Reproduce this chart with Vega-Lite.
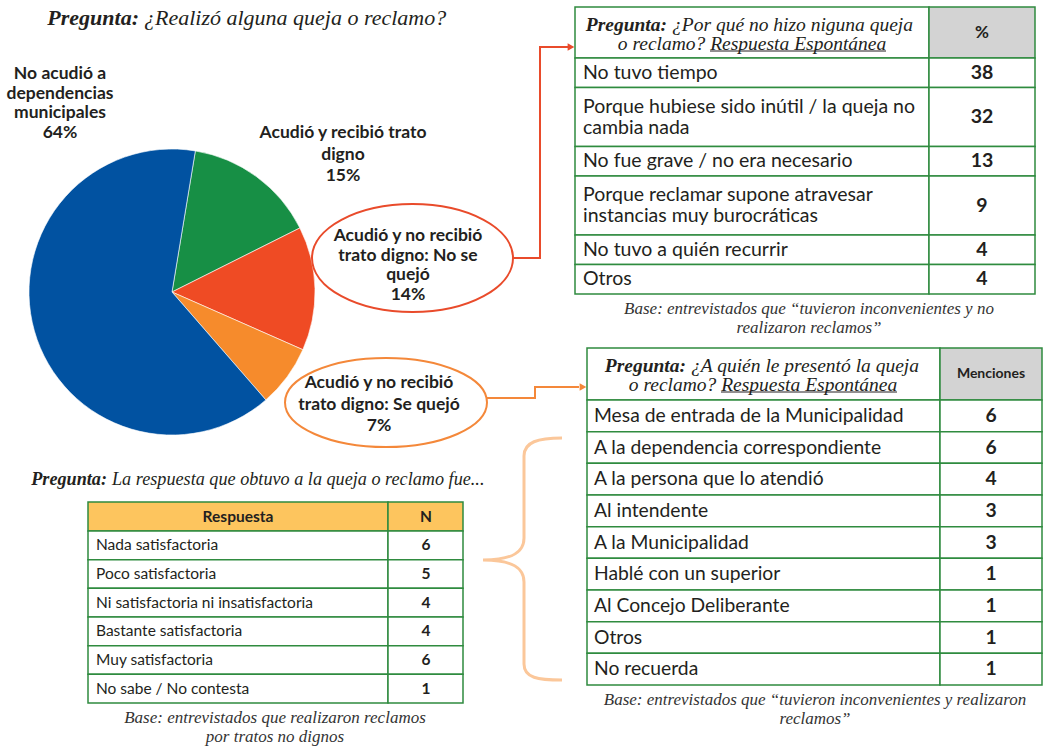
{
"$schema": "https://vega.github.io/schema/vega-lite/v6.json",
"width": 1043, "height": 746, "autosize": "none", "padding": 0, "background": "white",
"config": {"view": {"stroke": null}},
"datasets": {
 "pie": [
  {"orden": 1, "categoria": "Acudió y recibió trato digno", "pct": 15, "etiqueta": "Acudió y recibió trato\ndigno\n15%"},
  {"orden": 2, "categoria": "Acudió y no recibió trato digno: No se quejó", "pct": 14, "etiqueta": "Acudió y no recibió\ntrato digno: No se\nquejó\n14%"},
  {"orden": 3, "categoria": "Acudió y no recibió trato digno: Se quejó", "pct": 7, "etiqueta": "Acudió y no recibió\ntrato digno: Se quejó\n7%"},
  {"orden": 4, "categoria": "No acudió a dependencias municipales", "pct": 64, "etiqueta": "No acudió a\ndependencias\nmunicipales\n64%"}
 ],
 "t1": [
  {"fila": 1, "respuesta": "No tuvo tiempo", "lineas": 1, "pct": 38},
  {"fila": 2, "respuesta": "Porque hubiese sido inútil / la queja no\ncambia nada", "lineas": 2, "pct": 32},
  {"fila": 3, "respuesta": "No fue grave / no era necesario", "lineas": 1, "pct": 13},
  {"fila": 4, "respuesta": "Porque reclamar supone atravesar\ninstancias muy burocráticas", "lineas": 2, "pct": 9},
  {"fila": 5, "respuesta": "No tuvo a quién recurrir", "lineas": 1, "pct": 4},
  {"fila": 6, "respuesta": "Otros", "lineas": 1, "pct": 4}
 ],
 "t2": [
  {"fila": 1, "destino": "Mesa de entrada de la Municipalidad", "menciones": 6},
  {"fila": 2, "destino": "A la dependencia correspondiente", "menciones": 6},
  {"fila": 3, "destino": "A la persona que lo atendió", "menciones": 4},
  {"fila": 4, "destino": "Al intendente", "menciones": 3},
  {"fila": 5, "destino": "A la Municipalidad", "menciones": 3},
  {"fila": 6, "destino": "Hablé con un superior", "menciones": 1},
  {"fila": 7, "destino": "Al Concejo Deliberante", "menciones": 1},
  {"fila": 8, "destino": "Otros", "menciones": 1},
  {"fila": 9, "destino": "No recuerda", "menciones": 1}
 ],
 "t3": [
  {"fila": 1, "respuesta": "Nada satisfactoria", "n": 6},
  {"fila": 2, "respuesta": "Poco satisfactoria", "n": 5},
  {"fila": 3, "respuesta": "Ni satisfactoria ni insatisfactoria", "n": 4},
  {"fila": 4, "respuesta": "Bastante satisfactoria", "n": 4},
  {"fila": 5, "respuesta": "Muy satisfactoria", "n": 6},
  {"fila": 6, "respuesta": "No sabe / No contesta", "n": 1}
 ]
},
"resolve": {"scale": {"x": "independent", "y": "independent", "color": "independent", "theta": "independent"}},
"layer": [
 {"data": {"name": "pie"},
  "mark": {"type": "arc", "outerRadius": 143, "stroke": "white", "strokeWidth": 0.6},
  "encoding": {
   "theta": {"field": "pct", "type": "quantitative", "stack": true, "scale": {"range": [0.164, 6.4472]}},
   "order": {"field": "orden", "type": "quantitative"},
   "color": {"field": "categoria", "type": "nominal", "legend": null,
     "scale": {"domain": ["Acudió y recibió trato digno", "Acudió y no recibió trato digno: No se quejó", "Acudió y no recibió trato digno: Se quejó", "No acudió a dependencias municipales"],
               "range": ["#178F45", "#EF4B24", "#F68B2C", "#0152A1"]}},
   "x": {"datum": 172, "type": "quantitative", "scale": {"domain": [0, 1043], "range": [0, 1043], "nice": false, "zero": false}, "axis": null},
   "y": {"datum": 292, "type": "quantitative", "scale": {"domain": [0, 746], "range": [0, 746], "nice": false, "zero": false}, "axis": null}}},

 {"data": {"name": "pie"}, "transform": [{"filter": "datum.orden == 4"}],
  "mark": {"type": "text", "font": "Lato", "fontWeight": "bold", "fontSize": 17.5, "lineHeight": 19.7, "lineBreak": "\n", "align": "center", "baseline": "middle", "color": "#231F20"},
  "encoding": {"text": {"field": "etiqueta", "type": "nominal"},
   "x": {"datum": 60, "type": "quantitative", "scale": {"domain": [0, 1043], "range": [0, 1043], "nice": false, "zero": false}, "axis": null},
   "y": {"datum": 74, "type": "quantitative", "scale": {"domain": [0, 746], "range": [0, 746], "nice": false, "zero": false}, "axis": null}}},
 {"data": {"name": "pie"}, "transform": [{"filter": "datum.orden == 1"}],
  "mark": {"type": "text", "font": "Lato", "fontWeight": "bold", "fontSize": 17.5, "lineHeight": 21.5, "lineBreak": "\n", "align": "center", "baseline": "middle", "color": "#231F20"},
  "encoding": {"text": {"field": "etiqueta", "type": "nominal"},
   "x": {"datum": 343, "type": "quantitative", "scale": {"domain": [0, 1043], "range": [0, 1043], "nice": false, "zero": false}, "axis": null},
   "y": {"datum": 133, "type": "quantitative", "scale": {"domain": [0, 746], "range": [0, 746], "nice": false, "zero": false}, "axis": null}}},
 {"data": {"name": "pie"}, "transform": [{"filter": "datum.orden == 2"}],
  "mark": {"type": "text", "font": "Lato", "fontWeight": "bold", "fontSize": 17.5, "lineHeight": 19.5, "lineBreak": "\n", "align": "center", "baseline": "middle", "color": "#231F20"},
  "encoding": {"text": {"field": "etiqueta", "type": "nominal"},
   "x": {"datum": 408, "type": "quantitative", "scale": {"domain": [0, 1043], "range": [0, 1043], "nice": false, "zero": false}, "axis": null},
   "y": {"datum": 236, "type": "quantitative", "scale": {"domain": [0, 746], "range": [0, 746], "nice": false, "zero": false}, "axis": null}}},
 {"data": {"name": "pie"}, "transform": [{"filter": "datum.orden == 3"}],
  "mark": {"type": "text", "font": "Lato", "fontWeight": "bold", "fontSize": 17.5, "lineHeight": 21.5, "lineBreak": "\n", "align": "center", "baseline": "middle", "color": "#231F20"},
  "encoding": {"text": {"field": "etiqueta", "type": "nominal"},
   "x": {"datum": 379, "type": "quantitative", "scale": {"domain": [0, 1043], "range": [0, 1043], "nice": false, "zero": false}, "axis": null},
   "y": {"datum": 383, "type": "quantitative", "scale": {"domain": [0, 746], "range": [0, 746], "nice": false, "zero": false}, "axis": null}}},

 {"data": {"name": "pie"}, "transform": [{"filter": "datum.orden == 2"}],
  "mark": {"type": "point", "shape": "M -100.5 0 A 100.5 54 0 1 1 100.5 0 A 100.5 54 0 1 1 -100.5 0 Z", "size": 4, "filled": false, "opacity": 1, "color": "#E94B2B", "strokeWidth": 2},
  "encoding": {
   "x": {"datum": 412.5, "type": "quantitative", "scale": {"domain": [0, 1043], "range": [0, 1043], "nice": false, "zero": false}, "axis": null},
   "y": {"datum": 258, "type": "quantitative", "scale": {"domain": [0, 746], "range": [0, 746], "nice": false, "zero": false}, "axis": null}}},
 {"data": {"name": "pie"}, "transform": [{"filter": "datum.orden == 3"}],
  "mark": {"type": "point", "shape": "M -101 0 A 101 44.5 0 1 1 101 0 A 101 44.5 0 1 1 -101 0 Z", "size": 4, "filled": false, "opacity": 1, "color": "#F4883A", "strokeWidth": 2},
  "encoding": {
   "x": {"datum": 386, "type": "quantitative", "scale": {"domain": [0, 1043], "range": [0, 1043], "nice": false, "zero": false}, "axis": null},
   "y": {"datum": 402.5, "type": "quantitative", "scale": {"domain": [0, 746], "range": [0, 746], "nice": false, "zero": false}, "axis": null}}},

 {"data": {"name": "pie"}, "transform": [{"filter": "datum.orden == 2"}],
  "mark": {"type": "point", "shape": "M 0 0 L 27 0 L 27 -211 L 55 -211", "size": 4, "filled": false, "opacity": 1, "color": "#E94B2B", "strokeWidth": 2},
  "encoding": {
   "x": {"datum": 513, "type": "quantitative", "scale": {"domain": [0, 1043], "range": [0, 1043], "nice": false, "zero": false}, "axis": null},
   "y": {"datum": 258, "type": "quantitative", "scale": {"domain": [0, 746], "range": [0, 746], "nice": false, "zero": false}, "axis": null}}},
 {"data": {"name": "pie"}, "transform": [{"filter": "datum.orden == 2"}],
  "mark": {"type": "point", "shape": "triangle-right", "size": 60, "filled": true, "opacity": 1, "color": "#E94B2B"},
  "encoding": {
   "x": {"datum": 571, "type": "quantitative", "scale": {"domain": [0, 1043], "range": [0, 1043], "nice": false, "zero": false}, "axis": null},
   "y": {"datum": 47, "type": "quantitative", "scale": {"domain": [0, 746], "range": [0, 746], "nice": false, "zero": false}, "axis": null}}},
 {"data": {"name": "pie"}, "transform": [{"filter": "datum.orden == 3"}],
  "mark": {"type": "point", "shape": "M 0 0 L 48 0 L 48 -11 L 92 -11", "size": 4, "filled": false, "opacity": 1, "color": "#F4883A", "strokeWidth": 2},
  "encoding": {
   "x": {"datum": 487, "type": "quantitative", "scale": {"domain": [0, 1043], "range": [0, 1043], "nice": false, "zero": false}, "axis": null},
   "y": {"datum": 398, "type": "quantitative", "scale": {"domain": [0, 746], "range": [0, 746], "nice": false, "zero": false}, "axis": null}}},
 {"data": {"name": "pie"}, "transform": [{"filter": "datum.orden == 3"}],
  "mark": {"type": "point", "shape": "triangle-right", "size": 60, "filled": true, "opacity": 1, "color": "#F4883A"},
  "encoding": {
   "x": {"datum": 583, "type": "quantitative", "scale": {"domain": [0, 1043], "range": [0, 1043], "nice": false, "zero": false}, "axis": null},
   "y": {"datum": 387, "type": "quantitative", "scale": {"domain": [0, 746], "range": [0, 746], "nice": false, "zero": false}, "axis": null}}},

 {"data": {"values": [{"elemento": "llave"}]},
  "mark": {"type": "point", "shape": "M 79 -122 C 55 -122 41 -118 41 -104 L 41 -22 C 41 -8 30 0 0 0 C 30 0 41 8 41 22 L 41 104 C 41 118 55 120 79 120", "size": 4, "filled": false, "opacity": 1, "color": "#FBC79A", "strokeWidth": 3},
  "encoding": {
   "x": {"datum": 483, "type": "quantitative", "scale": {"domain": [0, 1043], "range": [0, 1043], "nice": false, "zero": false}, "axis": null},
   "y": {"datum": 560, "type": "quantitative", "scale": {"domain": [0, 746], "range": [0, 746], "nice": false, "zero": false}, "axis": null}}},

 {"data": {"values": [{"texto": "Pregunta:"}]},
  "mark": {"type": "text", "font": "Liberation Serif", "fontStyle": "italic", "fontWeight": "bold", "fontSize": 22, "align": "right", "baseline": "middle", "color": "#231F20"},
  "encoding": {"text": {"field": "texto", "type": "nominal"},
   "x": {"datum": 139, "type": "quantitative", "scale": {"domain": [0, 1043], "range": [0, 1043], "nice": false, "zero": false}, "axis": null},
   "y": {"datum": 18, "type": "quantitative", "scale": {"domain": [0, 746], "range": [0, 746], "nice": false, "zero": false}, "axis": null}}},
 {"data": {"values": [{"texto": "¿Realizó alguna queja o reclamo?"}]},
  "mark": {"type": "text", "font": "Liberation Serif", "fontStyle": "italic", "fontSize": 22, "align": "left", "baseline": "middle", "color": "#231F20"},
  "encoding": {"text": {"field": "texto", "type": "nominal"},
   "x": {"datum": 144, "type": "quantitative", "scale": {"domain": [0, 1043], "range": [0, 1043], "nice": false, "zero": false}, "axis": null},
   "y": {"datum": 18, "type": "quantitative", "scale": {"domain": [0, 746], "range": [0, 746], "nice": false, "zero": false}, "axis": null}}},

 {"data": {"values": [{"celda": "pregunta"}]},
  "mark": {"type": "rect", "fill": "white", "stroke": "#2F8B3F", "strokeWidth": 1.5},
  "encoding": {
   "x": {"datum": 575, "type": "quantitative", "scale": {"domain": [0, 1043], "range": [0, 1043], "nice": false, "zero": false}, "axis": null}, "x2": {"datum": 929},
   "y": {"datum": 7, "type": "quantitative", "scale": {"domain": [0, 746], "range": [0, 746], "nice": false, "zero": false}, "axis": null}, "y2": {"datum": 58}}},
 {"data": {"values": [{"celda": "%"}]},
  "mark": {"type": "rect", "fill": "#D3D3D3", "stroke": "#2F8B3F", "strokeWidth": 1.5},
  "encoding": {
   "x": {"datum": 929, "type": "quantitative", "scale": {"domain": [0, 1043], "range": [0, 1043], "nice": false, "zero": false}, "axis": null}, "x2": {"datum": 1035},
   "y": {"datum": 7, "type": "quantitative", "scale": {"domain": [0, 746], "range": [0, 746], "nice": false, "zero": false}, "axis": null}, "y2": {"datum": 58}}},
 {"data": {"values": [{"texto": "Pregunta:"}]},
  "mark": {"type": "text", "font": "Liberation Serif", "fontStyle": "italic", "fontWeight": "bold", "fontSize": 19.5, "align": "right", "baseline": "middle", "color": "#231F20"},
  "encoding": {"text": {"field": "texto", "type": "nominal"},
   "x": {"datum": 667, "type": "quantitative", "scale": {"domain": [0, 1043], "range": [0, 1043], "nice": false, "zero": false}, "axis": null},
   "y": {"datum": 25, "type": "quantitative", "scale": {"domain": [0, 746], "range": [0, 746], "nice": false, "zero": false}, "axis": null}}},
 {"data": {"values": [{"texto": "¿Por qué no hizo niguna queja"}]},
  "mark": {"type": "text", "font": "Liberation Serif", "fontStyle": "italic", "fontSize": 19.5, "align": "left", "baseline": "middle", "color": "#231F20"},
  "encoding": {"text": {"field": "texto", "type": "nominal"},
   "x": {"datum": 672, "type": "quantitative", "scale": {"domain": [0, 1043], "range": [0, 1043], "nice": false, "zero": false}, "axis": null},
   "y": {"datum": 25, "type": "quantitative", "scale": {"domain": [0, 746], "range": [0, 746], "nice": false, "zero": false}, "axis": null}}},
 {"data": {"values": [{"texto": "o reclamo? Respuesta Espontánea"}]},
  "mark": {"type": "text", "font": "Liberation Serif", "fontStyle": "italic", "fontSize": 19.5, "align": "center", "baseline": "middle", "color": "#231F20"},
  "encoding": {"text": {"field": "texto", "type": "nominal"},
   "x": {"datum": 752, "type": "quantitative", "scale": {"domain": [0, 1043], "range": [0, 1043], "nice": false, "zero": false}, "axis": null},
   "y": {"datum": 44, "type": "quantitative", "scale": {"domain": [0, 746], "range": [0, 746], "nice": false, "zero": false}, "axis": null}}},
 {"data": {"values": [{"subrayado": "Respuesta Espontánea"}]},
  "mark": {"type": "rule", "color": "#231F20", "strokeWidth": 1},
  "encoding": {
   "x": {"datum": 710, "type": "quantitative", "scale": {"domain": [0, 1043], "range": [0, 1043], "nice": false, "zero": false}, "axis": null}, "x2": {"datum": 886},
   "y": {"datum": 51, "type": "quantitative", "scale": {"domain": [0, 746], "range": [0, 746], "nice": false, "zero": false}, "axis": null}}},
 {"data": {"values": [{"texto": "%"}]},
  "mark": {"type": "text", "font": "Lato", "fontWeight": "bold", "fontSize": 17, "align": "center", "baseline": "middle", "color": "#231F20"},
  "encoding": {"text": {"field": "texto", "type": "nominal"},
   "x": {"datum": 982, "type": "quantitative", "scale": {"domain": [0, 1043], "range": [0, 1043], "nice": false, "zero": false}, "axis": null},
   "y": {"datum": 33, "type": "quantitative", "scale": {"domain": [0, 746], "range": [0, 746], "nice": false, "zero": false}, "axis": null}}},

 {"data": {"name": "t1"},
  "transform": [{"stack": "lineas", "groupby": [], "sort": [{"field": "fila", "order": "ascending"}], "as": ["s0", "s1"]}],
  "mark": {"type": "rect", "fill": "white", "stroke": "#2F8B3F", "strokeWidth": 1.5},
  "encoding": {
   "x": {"datum": 575, "type": "quantitative", "scale": {"domain": [0, 1043], "range": [0, 1043], "nice": false, "zero": false}, "axis": null}, "x2": {"datum": 929},
   "y": {"field": "s0", "type": "quantitative", "scale": {"domain": [0, 8], "range": [58, 294], "nice": false, "zero": false}, "axis": null}, "y2": {"field": "s1"}}},
 {"data": {"name": "t1"},
  "transform": [{"stack": "lineas", "groupby": [], "sort": [{"field": "fila", "order": "ascending"}], "as": ["s0", "s1"]}],
  "mark": {"type": "rect", "fill": "white", "stroke": "#2F8B3F", "strokeWidth": 1.5},
  "encoding": {
   "x": {"datum": 929, "type": "quantitative", "scale": {"domain": [0, 1043], "range": [0, 1043], "nice": false, "zero": false}, "axis": null}, "x2": {"datum": 1035},
   "y": {"field": "s0", "type": "quantitative", "scale": {"domain": [0, 8], "range": [58, 294], "nice": false, "zero": false}, "axis": null}, "y2": {"field": "s1"}}},
 {"data": {"name": "t1"},
  "transform": [{"stack": "lineas", "groupby": [], "sort": [{"field": "fila", "order": "ascending"}], "as": ["s0", "s1"]},
                {"fold": ["s0", "s1"], "as": ["borde", "pos"]},
                {"aggregate": [{"op": "mean", "field": "pos", "as": "medio"}], "groupby": ["fila", "respuesta", "lineas", "pct"]},
                {"filter": "datum.lineas == 1"}],
  "mark": {"type": "text", "font": "Lato", "fontSize": 19.5, "align": "left", "baseline": "middle", "color": "#231F20"},
  "encoding": {"text": {"field": "respuesta", "type": "nominal"},
   "x": {"datum": 583, "type": "quantitative", "scale": {"domain": [0, 1043], "range": [0, 1043], "nice": false, "zero": false}, "axis": null},
   "y": {"field": "medio", "type": "quantitative", "scale": {"domain": [0, 8], "range": [58, 294], "nice": false, "zero": false}, "axis": null}}},
 {"data": {"name": "t1"},
  "transform": [{"stack": "lineas", "groupby": [], "sort": [{"field": "fila", "order": "ascending"}], "as": ["s0", "s1"]},
                {"fold": ["s0", "s1"], "as": ["borde", "pos"]},
                {"aggregate": [{"op": "mean", "field": "pos", "as": "medio"}], "groupby": ["fila", "respuesta", "lineas", "pct"]},
                {"filter": "datum.lineas == 2"}],
  "mark": {"type": "text", "font": "Lato", "fontSize": 19.5, "lineHeight": 21, "lineBreak": "\n", "dy": -10.5, "align": "left", "baseline": "middle", "color": "#231F20"},
  "encoding": {"text": {"field": "respuesta", "type": "nominal"},
   "x": {"datum": 583, "type": "quantitative", "scale": {"domain": [0, 1043], "range": [0, 1043], "nice": false, "zero": false}, "axis": null},
   "y": {"field": "medio", "type": "quantitative", "scale": {"domain": [0, 8], "range": [58, 294], "nice": false, "zero": false}, "axis": null}}},
 {"data": {"name": "t1"},
  "transform": [{"stack": "lineas", "groupby": [], "sort": [{"field": "fila", "order": "ascending"}], "as": ["s0", "s1"]},
                {"fold": ["s0", "s1"], "as": ["borde", "pos"]},
                {"aggregate": [{"op": "mean", "field": "pos", "as": "medio"}], "groupby": ["fila", "respuesta", "pct"]}],
  "mark": {"type": "text", "font": "Lato", "fontWeight": "bold", "fontSize": 19.5, "align": "center", "baseline": "middle", "color": "#231F20"},
  "encoding": {"text": {"field": "pct", "type": "nominal"},
   "x": {"datum": 982, "type": "quantitative", "scale": {"domain": [0, 1043], "range": [0, 1043], "nice": false, "zero": false}, "axis": null},
   "y": {"field": "medio", "type": "quantitative", "scale": {"domain": [0, 8], "range": [58, 294], "nice": false, "zero": false}, "axis": null}}},
 {"data": {"values": [{"texto": "Base: entrevistados que “tuvieron inconvenientes y no\nrealizaron reclamos”"}]},
  "mark": {"type": "text", "font": "Liberation Serif", "fontStyle": "italic", "fontSize": 17, "lineHeight": 18.5, "lineBreak": "\n", "align": "center", "baseline": "middle", "color": "#333333"},
  "encoding": {"text": {"field": "texto", "type": "nominal"},
   "x": {"datum": 809, "type": "quantitative", "scale": {"domain": [0, 1043], "range": [0, 1043], "nice": false, "zero": false}, "axis": null},
   "y": {"datum": 309, "type": "quantitative", "scale": {"domain": [0, 746], "range": [0, 746], "nice": false, "zero": false}, "axis": null}}},

 {"data": {"values": [{"celda": "pregunta"}]},
  "mark": {"type": "rect", "fill": "white", "stroke": "#2F8B3F", "strokeWidth": 1.5},
  "encoding": {
   "x": {"datum": 587, "type": "quantitative", "scale": {"domain": [0, 1043], "range": [0, 1043], "nice": false, "zero": false}, "axis": null}, "x2": {"datum": 940},
   "y": {"datum": 348, "type": "quantitative", "scale": {"domain": [0, 746], "range": [0, 746], "nice": false, "zero": false}, "axis": null}, "y2": {"datum": 400}}},
 {"data": {"values": [{"celda": "Menciones"}]},
  "mark": {"type": "rect", "fill": "#D3D3D3", "stroke": "#2F8B3F", "strokeWidth": 1.5},
  "encoding": {
   "x": {"datum": 940, "type": "quantitative", "scale": {"domain": [0, 1043], "range": [0, 1043], "nice": false, "zero": false}, "axis": null}, "x2": {"datum": 1042},
   "y": {"datum": 348, "type": "quantitative", "scale": {"domain": [0, 746], "range": [0, 746], "nice": false, "zero": false}, "axis": null}, "y2": {"datum": 400}}},
 {"data": {"values": [{"texto": "Pregunta:"}]},
  "mark": {"type": "text", "font": "Liberation Serif", "fontStyle": "italic", "fontWeight": "bold", "fontSize": 19.5, "align": "right", "baseline": "middle", "color": "#231F20"},
  "encoding": {"text": {"field": "texto", "type": "nominal"},
   "x": {"datum": 686, "type": "quantitative", "scale": {"domain": [0, 1043], "range": [0, 1043], "nice": false, "zero": false}, "axis": null},
   "y": {"datum": 366, "type": "quantitative", "scale": {"domain": [0, 746], "range": [0, 746], "nice": false, "zero": false}, "axis": null}}},
 {"data": {"values": [{"texto": "¿A quién le presentó la queja"}]},
  "mark": {"type": "text", "font": "Liberation Serif", "fontStyle": "italic", "fontSize": 19.5, "align": "left", "baseline": "middle", "color": "#231F20"},
  "encoding": {"text": {"field": "texto", "type": "nominal"},
   "x": {"datum": 691, "type": "quantitative", "scale": {"domain": [0, 1043], "range": [0, 1043], "nice": false, "zero": false}, "axis": null},
   "y": {"datum": 366, "type": "quantitative", "scale": {"domain": [0, 746], "range": [0, 746], "nice": false, "zero": false}, "axis": null}}},
 {"data": {"values": [{"texto": "o reclamo? Respuesta Espontánea"}]},
  "mark": {"type": "text", "font": "Liberation Serif", "fontStyle": "italic", "fontSize": 19.5, "align": "center", "baseline": "middle", "color": "#231F20"},
  "encoding": {"text": {"field": "texto", "type": "nominal"},
   "x": {"datum": 763, "type": "quantitative", "scale": {"domain": [0, 1043], "range": [0, 1043], "nice": false, "zero": false}, "axis": null},
   "y": {"datum": 385, "type": "quantitative", "scale": {"domain": [0, 746], "range": [0, 746], "nice": false, "zero": false}, "axis": null}}},
 {"data": {"values": [{"subrayado": "Respuesta Espontánea"}]},
  "mark": {"type": "rule", "color": "#231F20", "strokeWidth": 1},
  "encoding": {
   "x": {"datum": 721, "type": "quantitative", "scale": {"domain": [0, 1043], "range": [0, 1043], "nice": false, "zero": false}, "axis": null}, "x2": {"datum": 897},
   "y": {"datum": 392, "type": "quantitative", "scale": {"domain": [0, 746], "range": [0, 746], "nice": false, "zero": false}, "axis": null}}},
 {"data": {"values": [{"texto": "Menciones"}]},
  "mark": {"type": "text", "font": "Lato", "fontWeight": "bold", "fontSize": 14, "align": "center", "baseline": "middle", "color": "#231F20"},
  "encoding": {"text": {"field": "texto", "type": "nominal"},
   "x": {"datum": 991, "type": "quantitative", "scale": {"domain": [0, 1043], "range": [0, 1043], "nice": false, "zero": false}, "axis": null},
   "y": {"datum": 374, "type": "quantitative", "scale": {"domain": [0, 746], "range": [0, 746], "nice": false, "zero": false}, "axis": null}}},

 {"data": {"name": "t2"},
  "mark": {"type": "rect", "fill": "white", "stroke": "#2F8B3F", "strokeWidth": 1.5},
  "encoding": {
   "x": {"datum": 587, "type": "quantitative", "scale": {"domain": [0, 1043], "range": [0, 1043], "nice": false, "zero": false}, "axis": null}, "x2": {"datum": 940},
   "y": {"field": "fila", "type": "ordinal", "scale": {"type": "band", "domain": [1, 2, 3, 4, 5, 6, 7, 8, 9], "range": [400, 685], "paddingInner": 0, "paddingOuter": 0}, "axis": null}}},
 {"data": {"name": "t2"},
  "mark": {"type": "rect", "fill": "white", "stroke": "#2F8B3F", "strokeWidth": 1.5},
  "encoding": {
   "x": {"datum": 940, "type": "quantitative", "scale": {"domain": [0, 1043], "range": [0, 1043], "nice": false, "zero": false}, "axis": null}, "x2": {"datum": 1042},
   "y": {"field": "fila", "type": "ordinal", "scale": {"type": "band", "domain": [1, 2, 3, 4, 5, 6, 7, 8, 9], "range": [400, 685], "paddingInner": 0, "paddingOuter": 0}, "axis": null}}},
 {"data": {"name": "t2"},
  "mark": {"type": "text", "font": "Lato", "fontSize": 19.3, "align": "left", "baseline": "middle", "color": "#231F20"},
  "encoding": {"text": {"field": "destino", "type": "nominal"},
   "x": {"datum": 594, "type": "quantitative", "scale": {"domain": [0, 1043], "range": [0, 1043], "nice": false, "zero": false}, "axis": null},
   "y": {"field": "fila", "type": "ordinal", "scale": {"type": "band", "domain": [1, 2, 3, 4, 5, 6, 7, 8, 9], "range": [400, 685], "paddingInner": 0, "paddingOuter": 0}, "axis": null}}},
 {"data": {"name": "t2"},
  "mark": {"type": "text", "font": "Lato", "fontWeight": "bold", "fontSize": 19.3, "align": "center", "baseline": "middle", "color": "#231F20"},
  "encoding": {"text": {"field": "menciones", "type": "nominal"},
   "x": {"datum": 991, "type": "quantitative", "scale": {"domain": [0, 1043], "range": [0, 1043], "nice": false, "zero": false}, "axis": null},
   "y": {"field": "fila", "type": "ordinal", "scale": {"type": "band", "domain": [1, 2, 3, 4, 5, 6, 7, 8, 9], "range": [400, 685], "paddingInner": 0, "paddingOuter": 0}, "axis": null}}},
 {"data": {"values": [{"texto": "Base: entrevistados que “tuvieron inconvenientes y realizaron\nreclamos”"}]},
  "mark": {"type": "text", "font": "Liberation Serif", "fontStyle": "italic", "fontSize": 17, "lineHeight": 18.5, "lineBreak": "\n", "align": "center", "baseline": "middle", "color": "#333333"},
  "encoding": {"text": {"field": "texto", "type": "nominal"},
   "x": {"datum": 815, "type": "quantitative", "scale": {"domain": [0, 1043], "range": [0, 1043], "nice": false, "zero": false}, "axis": null},
   "y": {"datum": 700, "type": "quantitative", "scale": {"domain": [0, 746], "range": [0, 746], "nice": false, "zero": false}, "axis": null}}},

 {"data": {"values": [{"texto": "Pregunta:"}]},
  "mark": {"type": "text", "font": "Liberation Serif", "fontStyle": "italic", "fontWeight": "bold", "fontSize": 18.2, "align": "right", "baseline": "middle", "color": "#231F20"},
  "encoding": {"text": {"field": "texto", "type": "nominal"},
   "x": {"datum": 107, "type": "quantitative", "scale": {"domain": [0, 1043], "range": [0, 1043], "nice": false, "zero": false}, "axis": null},
   "y": {"datum": 480, "type": "quantitative", "scale": {"domain": [0, 746], "range": [0, 746], "nice": false, "zero": false}, "axis": null}}},
 {"data": {"values": [{"texto": "La respuesta que obtuvo a la queja o reclamo fue..."}]},
  "mark": {"type": "text", "font": "Liberation Serif", "fontStyle": "italic", "fontSize": 18.2, "align": "left", "baseline": "middle", "color": "#231F20"},
  "encoding": {"text": {"field": "texto", "type": "nominal"},
   "x": {"datum": 112, "type": "quantitative", "scale": {"domain": [0, 1043], "range": [0, 1043], "nice": false, "zero": false}, "axis": null},
   "y": {"datum": 480, "type": "quantitative", "scale": {"domain": [0, 746], "range": [0, 746], "nice": false, "zero": false}, "axis": null}}},
 {"data": {"values": [{"celda": "Respuesta"}]},
  "mark": {"type": "rect", "fill": "#FDC55E", "stroke": "#2F8B3F", "strokeWidth": 1.5},
  "encoding": {
   "x": {"datum": 88, "type": "quantitative", "scale": {"domain": [0, 1043], "range": [0, 1043], "nice": false, "zero": false}, "axis": null}, "x2": {"datum": 388},
   "y": {"datum": 502, "type": "quantitative", "scale": {"domain": [0, 746], "range": [0, 746], "nice": false, "zero": false}, "axis": null}, "y2": {"datum": 531}}},
 {"data": {"values": [{"celda": "N"}]},
  "mark": {"type": "rect", "fill": "#FDC55E", "stroke": "#2F8B3F", "strokeWidth": 1.5},
  "encoding": {
   "x": {"datum": 388, "type": "quantitative", "scale": {"domain": [0, 1043], "range": [0, 1043], "nice": false, "zero": false}, "axis": null}, "x2": {"datum": 463},
   "y": {"datum": 502, "type": "quantitative", "scale": {"domain": [0, 746], "range": [0, 746], "nice": false, "zero": false}, "axis": null}, "y2": {"datum": 531}}},
 {"data": {"values": [{"texto": "Respuesta"}]},
  "mark": {"type": "text", "font": "Lato", "fontWeight": "bold", "fontSize": 15.5, "align": "center", "baseline": "middle", "color": "#231F20"},
  "encoding": {"text": {"field": "texto", "type": "nominal"},
   "x": {"datum": 238, "type": "quantitative", "scale": {"domain": [0, 1043], "range": [0, 1043], "nice": false, "zero": false}, "axis": null},
   "y": {"datum": 517, "type": "quantitative", "scale": {"domain": [0, 746], "range": [0, 746], "nice": false, "zero": false}, "axis": null}}},
 {"data": {"values": [{"texto": "N"}]},
  "mark": {"type": "text", "font": "Lato", "fontWeight": "bold", "fontSize": 15.5, "align": "center", "baseline": "middle", "color": "#231F20"},
  "encoding": {"text": {"field": "texto", "type": "nominal"},
   "x": {"datum": 426, "type": "quantitative", "scale": {"domain": [0, 1043], "range": [0, 1043], "nice": false, "zero": false}, "axis": null},
   "y": {"datum": 517, "type": "quantitative", "scale": {"domain": [0, 746], "range": [0, 746], "nice": false, "zero": false}, "axis": null}}},
 {"data": {"name": "t3"},
  "mark": {"type": "rect", "fill": "white", "stroke": "#2F8B3F", "strokeWidth": 1.5},
  "encoding": {
   "x": {"datum": 88, "type": "quantitative", "scale": {"domain": [0, 1043], "range": [0, 1043], "nice": false, "zero": false}, "axis": null}, "x2": {"datum": 388},
   "y": {"field": "fila", "type": "ordinal", "scale": {"type": "band", "domain": [1, 2, 3, 4, 5, 6], "range": [531, 703], "paddingInner": 0, "paddingOuter": 0}, "axis": null}}},
 {"data": {"name": "t3"},
  "mark": {"type": "rect", "fill": "white", "stroke": "#2F8B3F", "strokeWidth": 1.5},
  "encoding": {
   "x": {"datum": 388, "type": "quantitative", "scale": {"domain": [0, 1043], "range": [0, 1043], "nice": false, "zero": false}, "axis": null}, "x2": {"datum": 463},
   "y": {"field": "fila", "type": "ordinal", "scale": {"type": "band", "domain": [1, 2, 3, 4, 5, 6], "range": [531, 703], "paddingInner": 0, "paddingOuter": 0}, "axis": null}}},
 {"data": {"name": "t3"},
  "mark": {"type": "text", "font": "Lato", "fontSize": 15.5, "align": "left", "baseline": "middle", "color": "#231F20"},
  "encoding": {"text": {"field": "respuesta", "type": "nominal"},
   "x": {"datum": 96, "type": "quantitative", "scale": {"domain": [0, 1043], "range": [0, 1043], "nice": false, "zero": false}, "axis": null},
   "y": {"field": "fila", "type": "ordinal", "scale": {"type": "band", "domain": [1, 2, 3, 4, 5, 6], "range": [531, 703], "paddingInner": 0, "paddingOuter": 0}, "axis": null}}},
 {"data": {"name": "t3"},
  "mark": {"type": "text", "font": "Lato", "fontWeight": "bold", "fontSize": 15.5, "align": "center", "baseline": "middle", "color": "#231F20"},
  "encoding": {"text": {"field": "n", "type": "nominal"},
   "x": {"datum": 426, "type": "quantitative", "scale": {"domain": [0, 1043], "range": [0, 1043], "nice": false, "zero": false}, "axis": null},
   "y": {"field": "fila", "type": "ordinal", "scale": {"type": "band", "domain": [1, 2, 3, 4, 5, 6], "range": [531, 703], "paddingInner": 0, "paddingOuter": 0}, "axis": null}}},
 {"data": {"values": [{"texto": "Base: entrevistados que realizaron reclamos\npor tratos no dignos"}]},
  "mark": {"type": "text", "font": "Liberation Serif", "fontStyle": "italic", "fontSize": 17, "lineHeight": 19, "lineBreak": "\n", "align": "center", "baseline": "middle", "color": "#333333"},
  "encoding": {"text": {"field": "texto", "type": "nominal"},
   "x": {"datum": 275, "type": "quantitative", "scale": {"domain": [0, 1043], "range": [0, 1043], "nice": false, "zero": false}, "axis": null},
   "y": {"datum": 718, "type": "quantitative", "scale": {"domain": [0, 746], "range": [0, 746], "nice": false, "zero": false}, "axis": null}}}
]
}
